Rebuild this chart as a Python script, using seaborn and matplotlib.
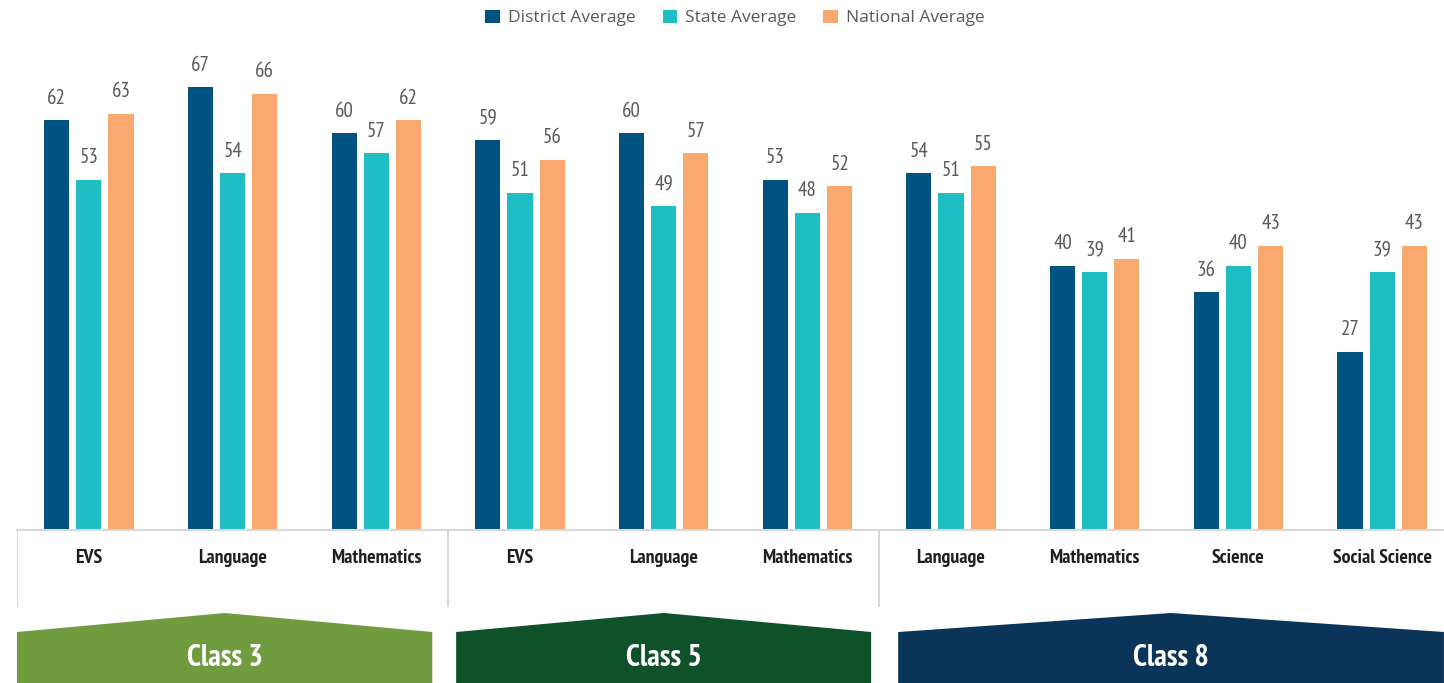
import matplotlib
matplotlib.use("Agg")
import matplotlib.pyplot as plt
from matplotlib.patches import Polygon, Patch
import seaborn as sns
import pandas as pd

# ---- data ----
subjects = ["EVS", "Language", "Mathematics", "EVS", "Language", "Mathematics",
            "Language", "Mathematics", "Science", "Social Science"]
classes = ["Class 3", "Class 3", "Class 3", "Class 5", "Class 5", "Class 5",
           "Class 8", "Class 8", "Class 8", "Class 8"]
district_avg = [62, 67, 60, 59, 60, 53, 54, 40, 36, 27]
state_avg = [53, 54, 57, 51, 49, 48, 51, 39, 40, 39]
national_avg = [63, 66, 62, 56, 57, 52, 55, 41, 43, 43]
series_names = ["District Average", "State Average", "National Average"]
class_names = ["Class 3", "Class 5", "Class 8"]

# ---- styling ----
sns.set_theme(style="white")
NARROW = ["PT Sans Narrow", "Roboto Condensed", "DejaVu Sans"]
plt.rcParams["font.family"] = NARROW
bar_colors = ["#005280", "#1FBEC3", "#F9A970"]
banner_colors = ["#709C3F", "#0F5128", "#0B3459"]
label_grey = "#595959"
line_grey = "#D9D9D9"

keys = [f"{c}|{s}|{i}" for i, (c, s) in enumerate(zip(classes, subjects))]
df = pd.DataFrame({
    "key": keys * 3,
    "series": sum([[n] * len(keys) for n in series_names], []),
    "value": district_avg + state_avg + national_avg,
})

W, H = 1444, 683
fig = plt.figure(figsize=(W / 100, H / 100), dpi=100)
ax_left = 17 / W
ax_width = 1437 / W
base_y = 530
top_y = 40
ax = fig.add_axes([ax_left, (H - base_y) / H, ax_width, (base_y - top_y) / H])

sns.barplot(data=df, x="key", y="value", hue="series", order=keys,
            hue_order=series_names, palette=bar_colors, width=0.672, gap=0.22,
            linewidth=0, saturation=1, ax=ax, legend=False)

ax.set_xlim(-0.5, len(keys) - 0.5)
ax.set_ylim(0, (base_y - top_y) / 6.61)
for cont in ax.containers:
    ax.bar_label(cont, padding=9, fontsize=15, color=label_grey,
                 family=NARROW)

ax.set_xticks(range(len(keys)))
ax.set_xticklabels(subjects, fontsize=14.3, fontweight="bold", color="#1F1F1F")
ax.tick_params(axis="x", length=0, pad=14)
ax.set_yticks([])
ax.set_xlabel("")
ax.set_ylabel("")
for side in ["top", "right", "left"]:
    ax.spines[side].set_visible(False)
ax.spines["bottom"].set_color(line_grey)
ax.spines["bottom"].set_linewidth(1.5)

# ---- lower band: group separators + class banners ----
bx = fig.add_axes([ax_left, 0, ax_width, (H - base_y) / H])
bx.set_xlim(-0.5, len(keys) - 0.5)
bx.set_ylim(H, base_y)
bx.axis("off")

group_bounds = []
start = 0
for cname in class_names:
    n = classes.count(cname)
    group_bounds.append((start - 0.5, start + n - 0.5))
    start += n

for (g0, g1) in group_bounds:
    bx.plot([g0, g0], [base_y, 607], color=line_grey, lw=1.5,
            solid_capstyle="butt")

left_pad = [0.0, 0.056, 0.132]
right_pad = [0.11, 0.056, 0.07]
for i, ((g0, g1), cname) in enumerate(zip(group_bounds, class_names)):
    x0 = g0 + left_pad[i]
    x1 = g1 - right_pad[i]
    xm = (x0 + x1) / 2
    poly = Polygon([(x0, H + 2), (x0, 632), (xm, 613), (x1, 632), (x1, H + 2)],
                   closed=True, facecolor=banner_colors[i], edgecolor="none",
                   clip_on=False)
    bx.add_patch(poly)
    bx.text(xm, 658, cname, ha="center", va="center", color="white",
            fontsize=22, fontweight="bold", family=NARROW)

# ---- legend ----
handles = [Patch(facecolor=c, edgecolor="none") for c in bar_colors]
leg = fig.legend(handles, series_names, loc="center",
                 bbox_to_anchor=(735 / W, 1 - 18 / H), ncol=3, frameon=False,
                 handlelength=0.85, handleheight=0.85, handletextpad=0.45,
                 columnspacing=1.55,
                 prop={"family": ["Open Sans", "DejaVu Sans"], "size": 12.5})
for t in leg.get_texts():
    t.set_color(label_grey)

fig.savefig("out.png", dpi=100, facecolor="white")
